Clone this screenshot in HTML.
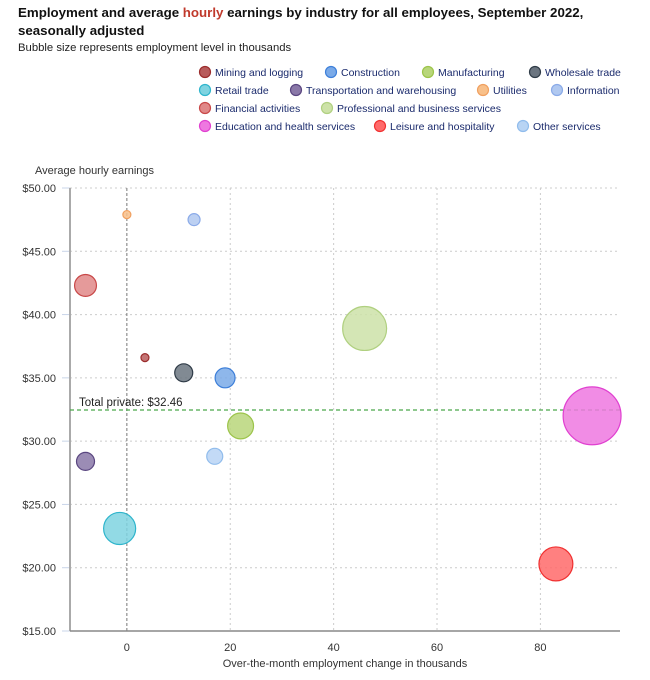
<!DOCTYPE html>
<html><head><meta charset="utf-8">
<style>
body{margin:0;background:#fff;width:650px;height:680px;overflow:hidden;font-family:"Liberation Sans",sans-serif}
.t{position:absolute;left:18px;top:4px;font-size:13.3px;font-weight:bold;color:#111;line-height:18px;width:600px}
.s{position:absolute;left:18px;top:42px;font-size:11.3px;color:#222}
</style></head><body>
<div class="t">Employment and average <span style="color:#c0392b">hourly</span> earnings by industry for all employees, September 2022, seasonally adjusted</div>
<div class="s">Bubble size represents employment level in thousands</div>
<svg id="c" width="650" height="680" style="position:absolute;left:0;top:0"></svg>
<script>
const industries=["Mining and logging","Construction","Manufacturing","Wholesale trade","Retail trade","Transportation and warehousing","Utilities","Information","Financial activities","Professional and business services","Education and health services","Leisure and hospitality","Other services"];
const empChange=[3.5,19,22,11,-1.4,-8,0,13,-8,46,90,83,17];
const earnings=[36.6,35.0,31.2,35.4,23.1,28.4,47.9,47.5,42.3,38.9,32.0,20.3,28.8];
const employment=[470,2900,4900,2370,7500,2370,470,1050,3500,14100,24500,8400,1870];
const fills=["#b85c5c","#7aaae8","#b8d67a","#6b7580","#7fd3e0","#8a78a8","#f8c08a","#b0c8f0","#e08888","#cde2a8","#ee78e0","#ff6a6a","#b8d4f4"];
const strokes=["#9b2c2c","#3d7fd9","#9cc44a","#2f3b47","#2fb5cc","#5a4680","#f0a060","#8aaae8","#c84848","#b0d080","#e040d0","#f03030","#90bcec"];
const xTicks=[0,20,40,60,80];
const yTicks=[15,20,25,30,35,40,45,50];
const totalPrivate=32.46;
const NS="http://www.w3.org/2000/svg";
const svg=document.getElementById('c');
const X0=70,X1=620,Y0=631,Y1=188;
const xMin=-11,xMax=95.4,yMin=15,yMax=50;
const xs=v=>X0+(v-xMin)/(xMax-xMin)*(X1-X0);
const ys=v=>Y0-(v-yMin)/(yMax-yMin)*(Y0-Y1);
const rs=e=>0.185*Math.sqrt(e);
function mk(t,a,p){const e=document.createElementNS(NS,t);for(const k in a)e.setAttribute(k,a[k]);(p||svg).appendChild(e);return e;}
function tx(x,y,s,a){const e=mk('text',Object.assign({x:x,y:y,'font-size':11,fill:'#333','font-family':'Liberation Sans, sans-serif'},a||{}));e.textContent=s;return e;}
yTicks.forEach(v=>{
 const y=ys(v);
 if(v>yMin){const g=mk('line',{x1:X0,x2:X1,y1:y,y2:y,stroke:'#ccc','stroke-dasharray':'2,3'});
 
 }
 mk('line',{x1:X0-8,x2:X0,y1:y,y2:y,stroke:'#c8d4e8'});
 const l=tx(X0-14,y+4,'$'+v.toFixed(2),{'text-anchor':'end'});
 
 
});
xTicks.forEach(v=>{
 const x=xs(v);
 const g=mk('line',{x1:x,x2:x,y1:Y1,y2:Y0,stroke:v===0?'#777':'#ccc','stroke-dasharray':v===0?'3,2':'2,3'});
 
 
 const l=tx(x,Y0+20,String(v),{'text-anchor':'middle'});
 
 
});
mk('line',{x1:X0,x2:X0,y1:Y1,y2:Y0,stroke:'#aaa','stroke-width':2});
mk('line',{x1:X0,x2:X1,y1:Y0,y2:Y0,stroke:'#888','stroke-width':1.5});
const yt=tx(35,174,'Average hourly earnings');


const xt=tx(345,667,'Over-the-month employment change in thousands',{'text-anchor':'middle'});


const ty=ys(totalPrivate);
const rl=mk('line',{x1:X0,x2:X1,y1:ty,y2:ty,stroke:'#4aa84a','stroke-dasharray':'4,3','stroke-width':1.2});


const rt=tx(79,ty-4,'Total private: $'+totalPrivate.toFixed(2),{'font-size':11.5,fill:'#222'});


industries.forEach((n,i)=>{
 const c=mk('circle',{cx:xs(empChange[i]),cy:ys(earnings[i]),r:rs(employment[i]),fill:fills[i],'fill-opacity':0.85,stroke:strokes[i],'stroke-width':1.2});
 
 
});
const rows=[[[0,201],[1,327],[2,424],[3,531]],[[4,201],[5,292],[6,479],[7,553]],[[8,201],[9,323]],[[10,201],[11,376],[12,519]]];
rows.forEach((r,ri)=>{r.forEach(([i,x])=>{
 const y=72+ri*18;
 const g=mk('g',{});
 
 
 mk('circle',{cx:x+4,cy:y,r:5.5,fill:fills[i],stroke:strokes[i],'stroke-width':1.2},g);
 const t=mk('text',{x:x+14,y:y+4,'font-size':10.5,fill:'#1a2a6c','font-family':'Liberation Sans, sans-serif'},g);
 t.textContent=industries[i];
});});
</script>
</body></html>
